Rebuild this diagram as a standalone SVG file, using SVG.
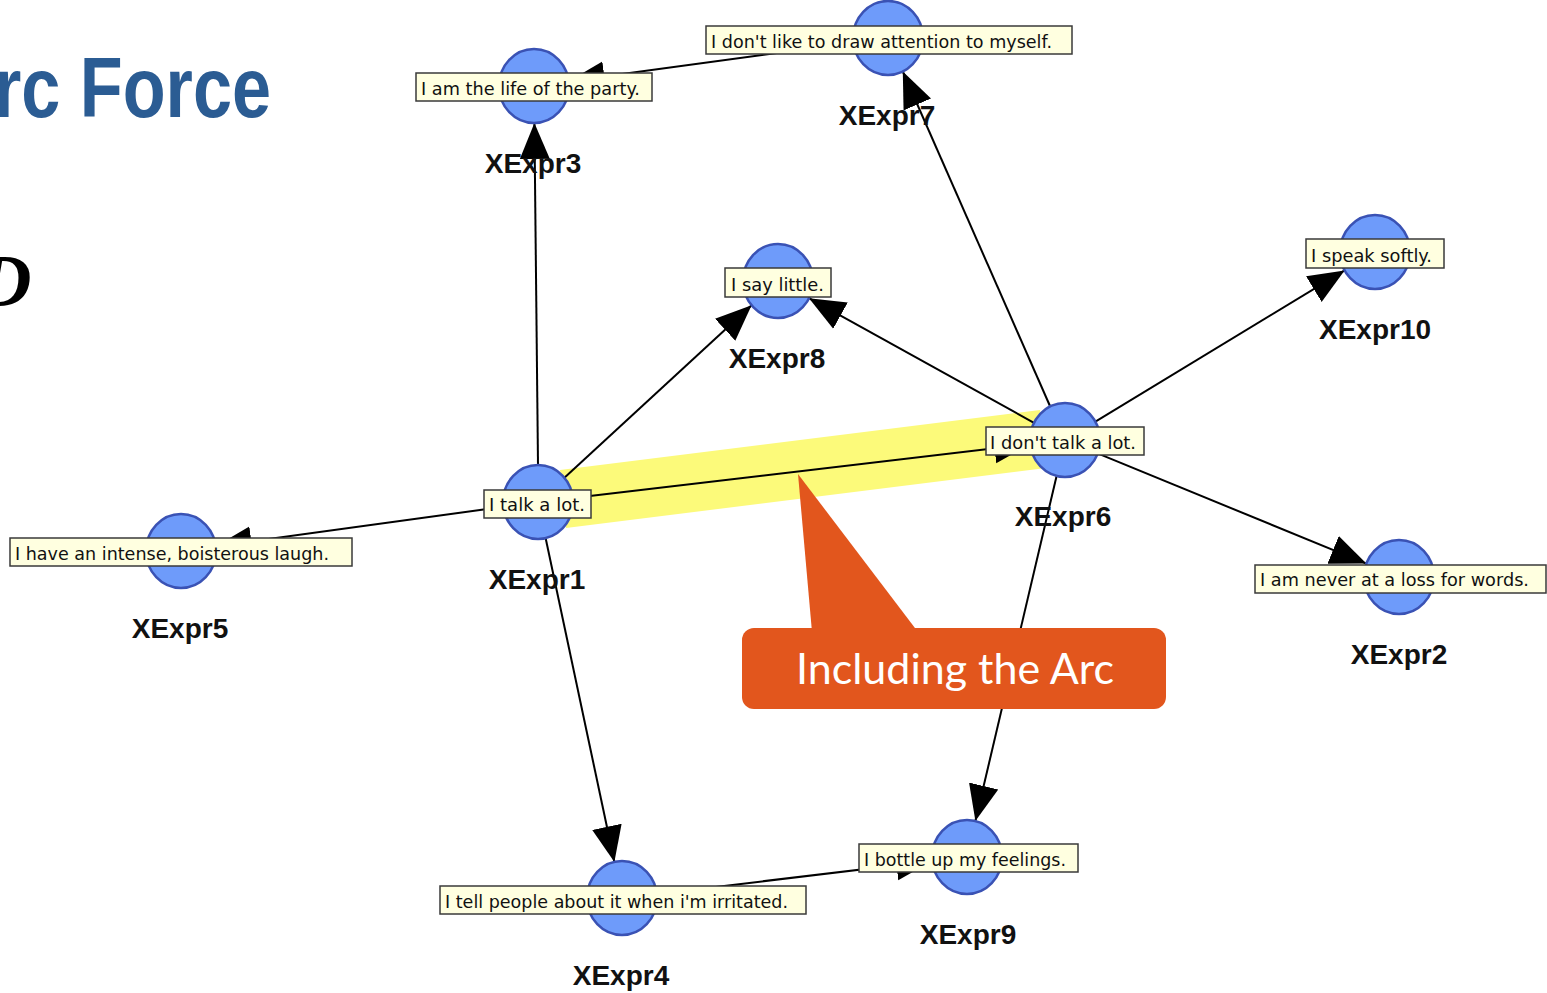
<svg xmlns="http://www.w3.org/2000/svg" width="1547" height="993" viewBox="0 0 1547 993">
  <defs>
    <marker id="arrow" markerUnits="userSpaceOnUse" markerWidth="36" markerHeight="32" viewBox="0 0 36 32" refX="36" refY="16" orient="auto">
      <path d="M0,1 L36,16 L0,31 z" fill="#000"/>
    </marker>
    <style>
      .edge { stroke: #000; stroke-width: 2; fill: none; marker-end: url(#arrow); }
      .node ellipse { fill: #6e9bfa; stroke: #3a52b4; stroke-width: 2.5; }
      .tip rect { fill: #ffffe0; stroke: #3a3a3a; stroke-width: 1.5; }
      .tip text { font-family: "DejaVu Sans", Verdana, sans-serif; font-size: 17px; fill: #111; }
      .name { font-family: "Liberation Sans", Arial, sans-serif; font-weight: bold; font-size: 28px; fill: #111; text-anchor: middle; }
    </style>
  </defs>
  <rect width="1547" height="993" fill="#fff"/>

  <!-- slide title fragments -->
  <text x="-6" y="117" font-family="Liberation Sans, Arial, sans-serif" font-weight="bold" font-size="86" fill="#2b5c93" textLength="277" lengthAdjust="spacingAndGlyphs">rc Force</text>
  <text x="-22" y="306" font-family="Liberation Serif, Times New Roman, serif" font-style="italic" font-weight="bold" font-size="74" fill="#000">D</text>

  <!-- highlighted arc -->
  <polygon points="560,470 1040,410 1046,468 566,528" fill="#fcfa7a"/>

  <!-- connectors -->
  <g id="edges">
    <line class="edge" x1="538" y1="465" x2="534.4" y2="123"/>
    <line class="edge" x1="853.3" y1="42.7" x2="568.7" y2="81.3"/>
    <line class="edge" x1="1050.2" y1="406.5" x2="902.8" y2="71.5"/>
    <line class="edge" x1="564.4" y1="477.7" x2="751.6" y2="305.3"/>
    <line class="edge" x1="1034" y1="422.8" x2="809" y2="298.2"/>
    <line class="edge" x1="1095.4" y1="421.6" x2="1344.6" y2="270.4"/>
    <line class="edge" x1="1097.6" y1="453.4" x2="1366.4" y2="563.6"/>
    <line class="edge" x1="1056.6" y1="475.9" x2="975.4" y2="821.1"/>
    <line class="edge" x1="545.6" y1="538" x2="614.4" y2="862"/>
    <line class="edge" x1="656.8" y1="893.9" x2="932.2" y2="861.1"/>
    <line class="edge" x1="503.3" y1="506.8" x2="215.7" y2="546.2"/>
    <line class="edge" x1="572.8" y1="497.9" x2="1030.2" y2="444.1"/>
  </g>

  <!-- nodes -->
  <g id="XExpr1" class="node">
    <ellipse cx="538" cy="502" rx="35" ry="37"/>
    <g class="tip"><rect x="484" y="490" width="107" height="28"/><text x="489" y="511" textLength="96" lengthAdjust="spacingAndGlyphs">I talk a lot.</text></g>
    <text class="name" x="537" y="589">XExpr1</text>
  </g>
  <g id="XExpr2" class="node">
    <ellipse cx="1399" cy="577" rx="35" ry="37"/>
    <g class="tip"><rect x="1255" y="565" width="291" height="28"/><text x="1260" y="586" textLength="269" lengthAdjust="spacingAndGlyphs">I am never at a loss for words.</text></g>
    <text class="name" x="1399" y="664">XExpr2</text>
  </g>
  <g id="XExpr3" class="node">
    <ellipse cx="534" cy="86" rx="35" ry="37"/>
    <g class="tip"><rect x="416" y="73" width="236" height="28"/><text x="421" y="95" textLength="219" lengthAdjust="spacingAndGlyphs">I am the life of the party.</text></g>
    <text class="name" x="533" y="173">XExpr3</text>
  </g>
  <g id="XExpr4" class="node">
    <ellipse cx="622" cy="898" rx="35" ry="37"/>
    <g class="tip"><rect x="440" y="886" width="366" height="28"/><text x="445" y="908" textLength="343" lengthAdjust="spacingAndGlyphs">I tell people about it when i'm irritated.</text></g>
    <text class="name" x="621" y="985">XExpr4</text>
  </g>
  <g id="XExpr5" class="node">
    <ellipse cx="181" cy="551" rx="35" ry="37"/>
    <g class="tip"><rect x="10" y="538" width="342" height="28"/><text x="15" y="560" textLength="314" lengthAdjust="spacingAndGlyphs">I have an intense, boisterous laugh.</text></g>
    <text class="name" x="180" y="638">XExpr5</text>
  </g>
  <g id="XExpr6" class="node">
    <ellipse cx="1065" cy="440" rx="35" ry="37"/>
    <g class="tip"><rect x="986" y="427" width="158" height="28"/><text x="990" y="449" textLength="146" lengthAdjust="spacingAndGlyphs">I don't talk a lot.</text></g>
    <text class="name" x="1063" y="526">XExpr6</text>
  </g>
  <g id="XExpr7" class="node">
    <ellipse cx="888" cy="38" rx="35" ry="37"/>
    <g class="tip"><rect x="706" y="26" width="366" height="28"/><text x="711" y="48" textLength="341" lengthAdjust="spacingAndGlyphs">I don't like to draw attention to myself.</text></g>
    <text class="name" x="887" y="125">XExpr7</text>
  </g>
  <g id="XExpr8" class="node">
    <ellipse cx="778" cy="281" rx="35" ry="37"/>
    <g class="tip"><rect x="725" y="268" width="106" height="29"/><text x="731" y="291" textLength="93" lengthAdjust="spacingAndGlyphs">I say little.</text></g>
    <text class="name" x="777" y="368">XExpr8</text>
  </g>
  <g id="XExpr9" class="node">
    <ellipse cx="967" cy="857" rx="35" ry="37"/>
    <g class="tip"><rect x="859" y="844" width="219" height="28"/><text x="864" y="866" textLength="202" lengthAdjust="spacingAndGlyphs">I bottle up my feelings.</text></g>
    <text class="name" x="968" y="944">XExpr9</text>
  </g>
  <g id="XExpr10" class="node">
    <ellipse cx="1375" cy="252" rx="35" ry="37"/>
    <g class="tip"><rect x="1306" y="239" width="138" height="29"/><text x="1311" y="262" textLength="121" lengthAdjust="spacingAndGlyphs">I speak softly.</text></g>
    <text class="name" x="1375" y="339">XExpr10</text>
  </g>

  <!-- callout -->
  <g id="callout">
    <polygon points="798,474 812,632 918,632" fill="#e2561d"/>
    <rect x="742" y="628" width="424" height="81" rx="12" fill="#e2561d"/>
    <text x="796" y="684" font-family="Lato, 'Open Sans', sans-serif" font-size="42" fill="#fff" textLength="318" lengthAdjust="spacingAndGlyphs">Including the Arc</text>
  </g>
</svg>
